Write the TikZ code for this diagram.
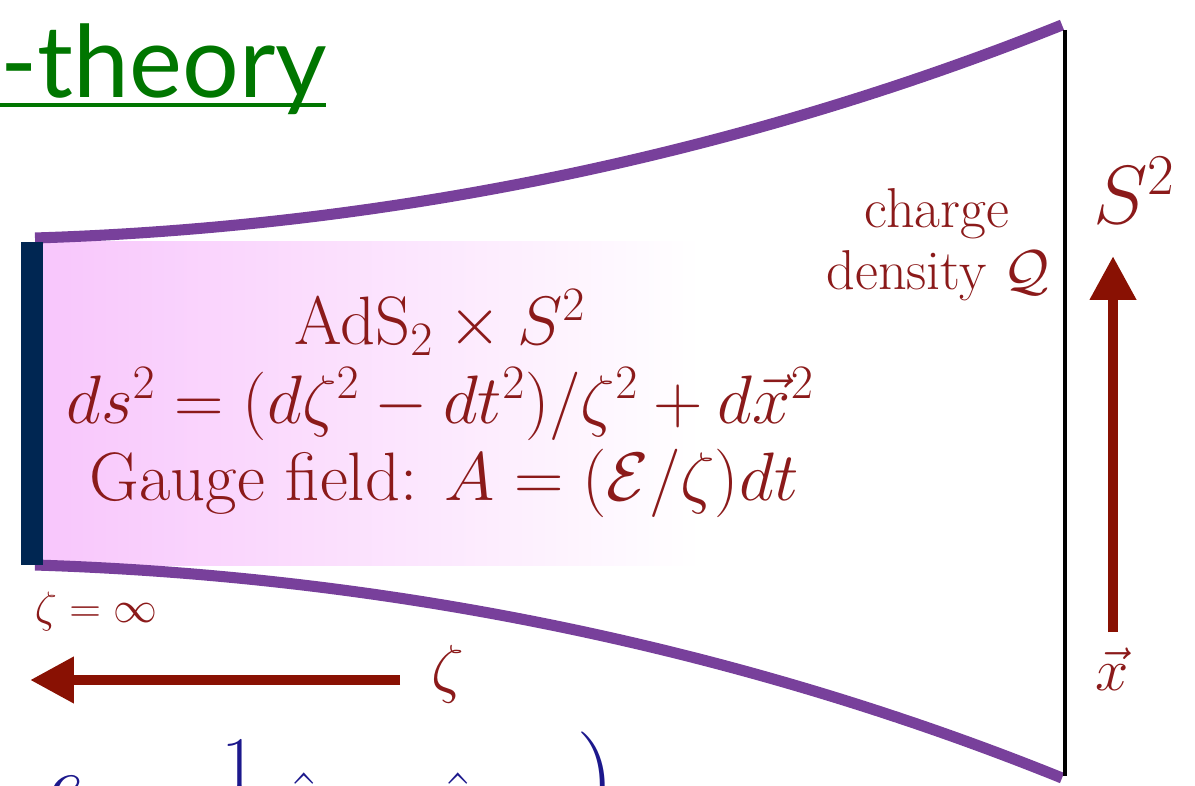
\RequirePackage{fix-cm}
\documentclass[tikz,border=0pt]{standalone}
\usepackage{fontspec}
\newfontfamily\titlefont{Lato}
\usetikzlibrary{arrows.meta}
\definecolor{darkred}{RGB}{139,26,26}
\definecolor{arrowred}{RGB}{137,17,3}
\definecolor{bandpurple}{RGB}{120,64,155}
\definecolor{navybar}{RGB}{0,38,82}
\definecolor{pinkfill}{RGB}{248,198,252}
\definecolor{titlegreen}{RGB}{0,118,0}
\definecolor{formulablue}{RGB}{28,24,140}
\tikzset{
  band/.style={draw=bandpurple, line width=6.3pt},
  bigarrow/.style={draw=arrowred, line width=6pt, -{Triangle[length=25pt,width=25pt]}},
  maintext/.style={text=darkred, font=\fontsize{39}{46}\selectfont, inner sep=0pt, anchor=base},
  sidetext/.style={text=darkred, font=\fontsize{32}{38}\selectfont, inner sep=0pt, anchor=base},
  bluetext/.style={text=formulablue, font=\fontsize{44}{50}\selectfont, inner sep=0pt, anchor=north},
}
\begin{document}
\begin{tikzpicture}[x=0.02cm, y=-0.02cm]
\useasboundingbox (0,0) rectangle (1195,786);
\clip (0,0) rectangle (1195,786);
% pink region
\shade[left color=pinkfill, right color=white] (42,242) rectangle (700,565);
% purple bands
\draw[band] (35,238) .. controls (450,225) and (800,130) .. (1062,25);
\draw[band] (35,565) .. controls (450,578) and (800,672) .. (1062,778);
% left boundary bar
\fill[navybar] (21,242) rectangle (43,565);
% right boundary line
\draw[line width=1.8pt] (1065,30) -- (1065,776);
% arrows
\coordinate (zs) at (400,680);
\coordinate (ze) at (30,680);
\draw[bigarrow] (zs) -- (ze);
\coordinate (xs) at (1113,632);
\coordinate (xe) at (1113,256);
\draw[bigarrow] (xs) -- (xe);
% main texts
\node[maintext] (l1) at (440,345) {AdS$_2\times S^2$};
\node[maintext] (l2) at (440,423) {$ds^2=(d\zeta^2-dt^2)/\zeta^2+d\vec x^2$};
\node[maintext] (l3) at (444,500) {Gauge field: $A=(\mathcal{E}/\zeta)dt$};
% side texts
\node[sidetext] (c1) at (937,228) {charge};
\node[sidetext] (c2) at (938,290) {density $\mathcal{Q}$};
\node[text=darkred, font=\fontsize{47}{52}\selectfont, inner sep=0pt, anchor=base] (s2) at (1134,224) {$S^2$};
\node[text=darkred, font=\fontsize{34}{40}\selectfont, inner sep=0pt, anchor=base] (xv) at (1112,690) {$\vec x$};
\node[text=darkred, font=\fontsize{25}{30}\selectfont, inner sep=0pt, anchor=base] (zinf) at (96,622) {$\zeta=\infty$};
\node[text=darkred, font=\fontsize{37}{44}\selectfont, inner sep=0pt, anchor=base] (zeta) at (448,690) {$\zeta$};
% title
\node[text=titlegreen, font=\titlefont\fontsize{57}{60}\selectfont, inner sep=0pt, anchor=base west] (title) at (0,98) {-theory};
\draw[titlegreen, line width=2.8pt] (0,105) -- (326,105);
% partially visible formula at the bottom
\node[bluetext] (b1) at (66,776) {$e$};
\node[bluetext] (b2) at (239,740) {$1$};
\node[bluetext] (b3) at (304,772) {$\hat{n}$};
\node[bluetext] (b4) at (458,772) {$\hat{n}$};
\node[text=formulablue, font=\fontsize{62}{70}\selectfont, inner sep=0pt, anchor=north] (b5) at (596,732) {$\Bigg)$};
\end{tikzpicture}
\end{document}
